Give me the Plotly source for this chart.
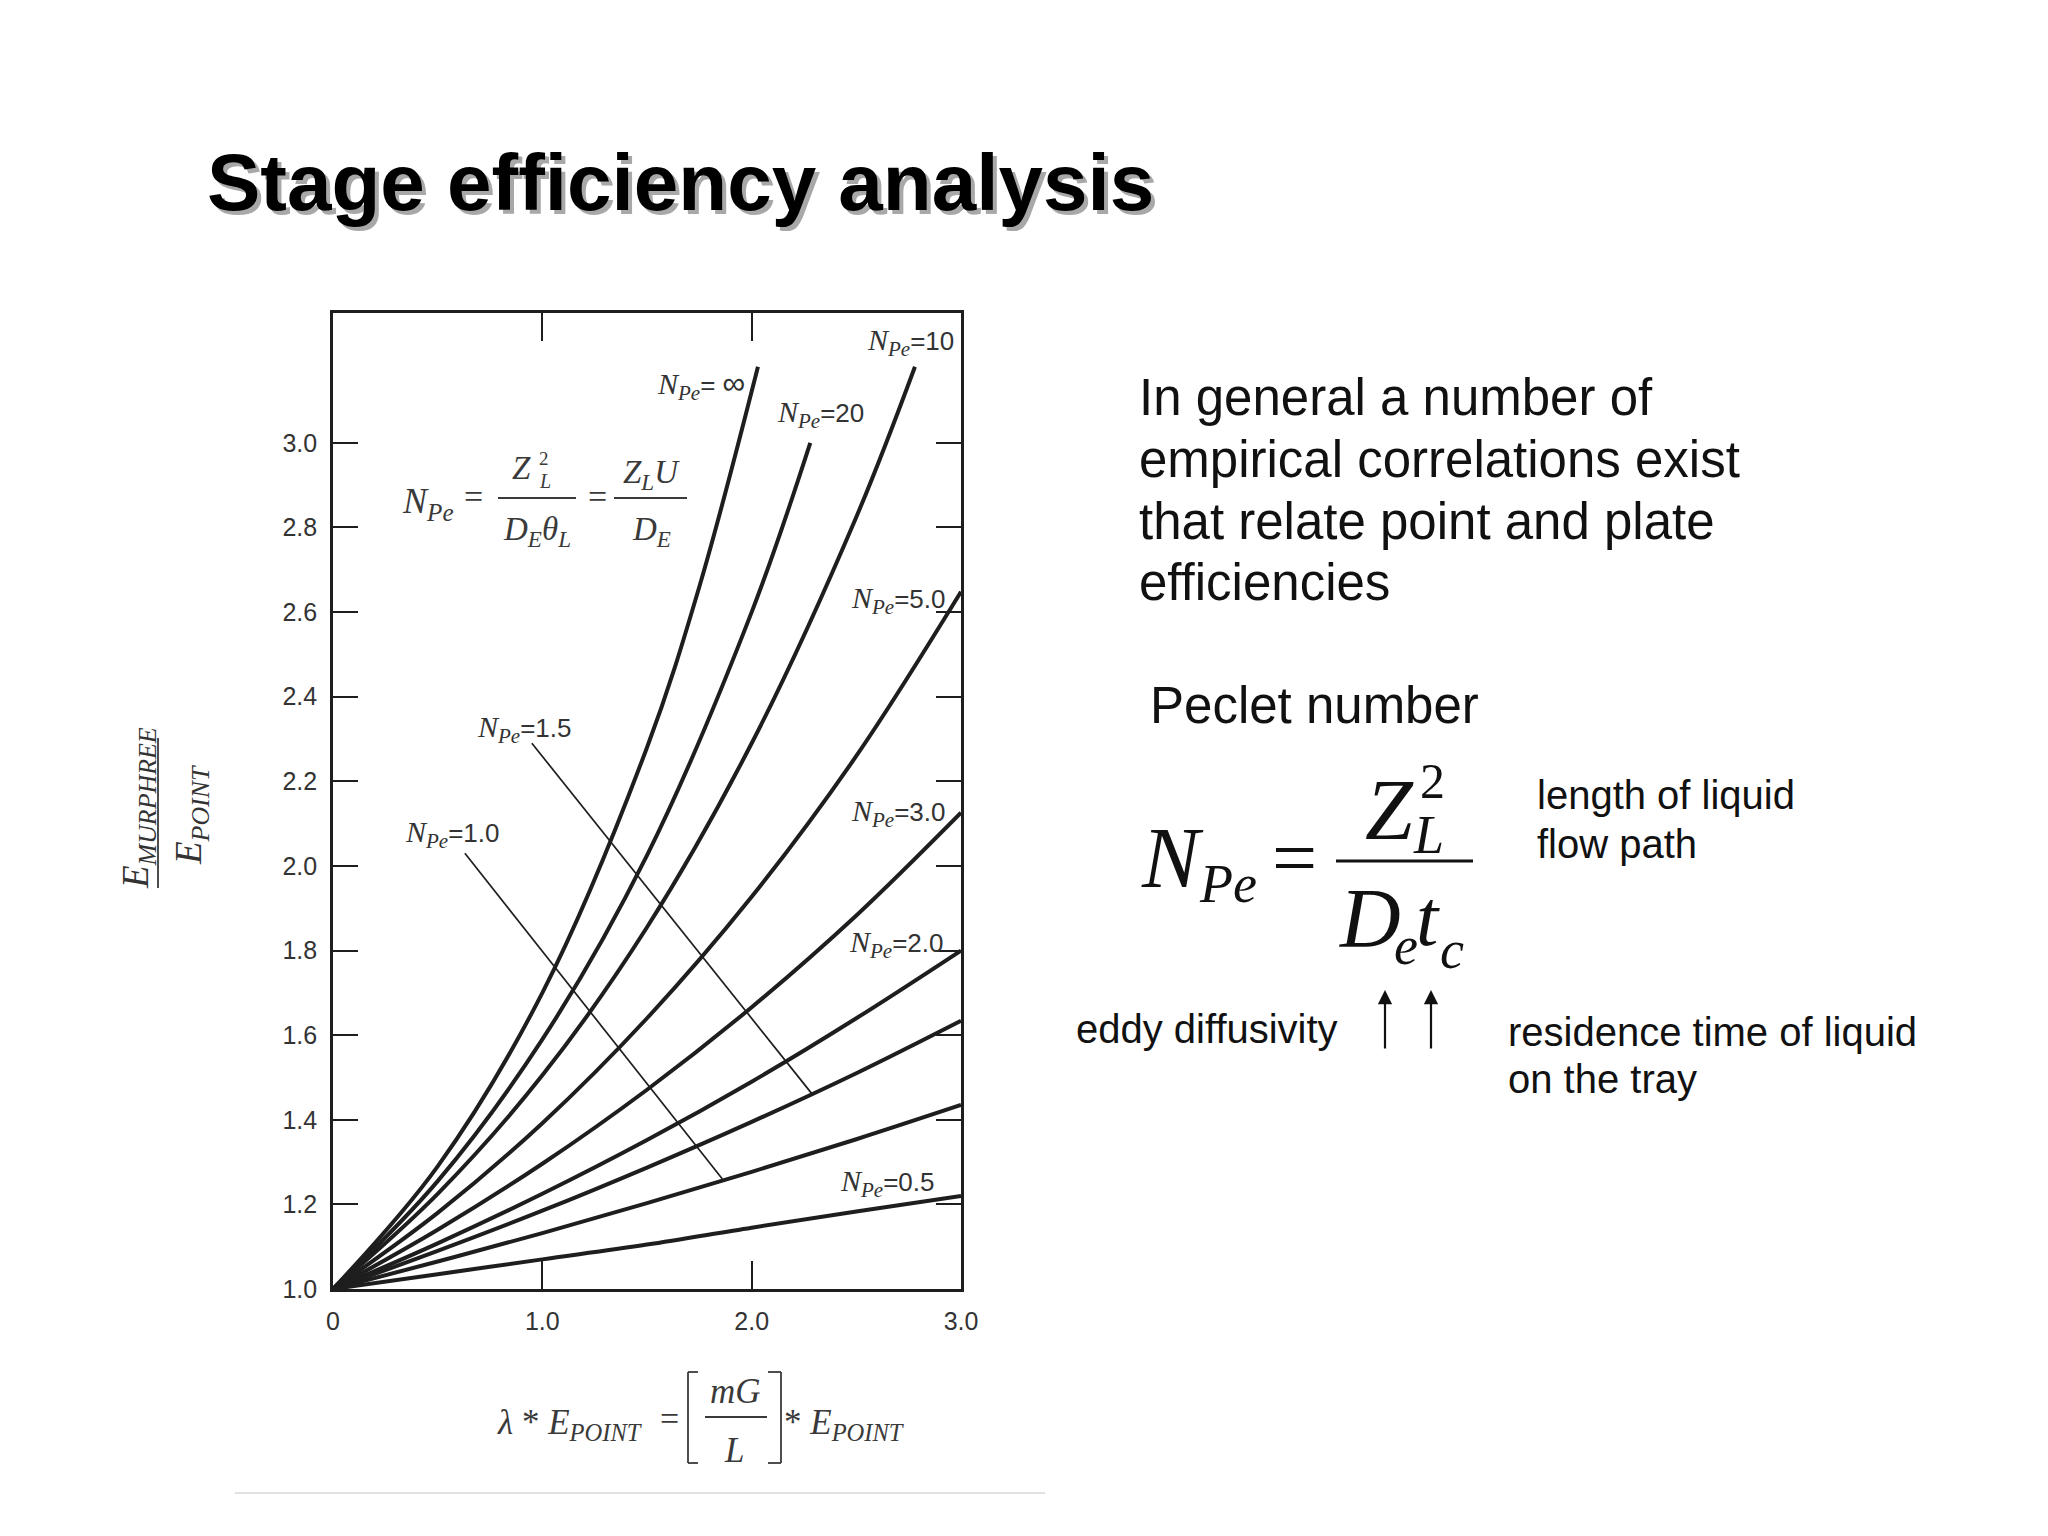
import plotly.graph_objects as go

# ---------------- data ----------------
x_grid = [0.0, 0.5, 1.0, 1.5, 2.0, 2.5, 3.0]

pe_inf_x = [0.0, 0.5, 1.0, 1.5, 1.75, 2.03]
pe_inf_y = [1.0, 1.29, 1.70, 2.28, 2.66, 3.18]

pe_20_x = [0.0, 0.5, 1.0, 1.5, 2.0, 2.28]
pe_20_y = [1.0, 1.255, 1.59, 2.025, 2.60, 3.00]

pe_10_x = [0.0, 0.5, 1.0, 1.5, 2.0, 2.5, 2.78]
pe_10_y = [1.0, 1.225, 1.505, 1.855, 2.29, 2.825, 3.18]

pe_5_y = [1.0, 1.18, 1.392, 1.64, 1.927, 2.26, 2.648]
pe_3_y = [1.0, 1.14, 1.296, 1.471, 1.666, 1.883, 2.126]
pe_2_y = [1.0, 1.108, 1.225, 1.352, 1.49, 1.64, 1.80]
pe_15_y = [1.0, 1.09, 1.185, 1.287, 1.395, 1.51, 1.634]
pe_1_y = [1.0, 1.065, 1.132, 1.203, 1.277, 1.354, 1.435]
pe_05_y = [1.0, 1.035, 1.07, 1.105, 1.145, 1.183, 1.22]

leader_15_x = [0.95, 2.29]
leader_15_y = [2.29, 1.46]
leader_1_x = [0.63, 1.86]
leader_1_y = [2.03, 1.26]

x_tick_vals = [0, 1, 2, 3]
x_tick_text = ["0", "1.0", "2.0", "3.0"]
y_tick_vals = [1.0, 1.2, 1.4, 1.6, 1.8, 2.0, 2.2, 2.4, 2.6, 2.8, 3.0]
y_tick_text = ["1.0", "1.2", "1.4", "1.6", "1.8", "2.0", "2.2", "2.4", "2.6", "2.8", "3.0"]

curve_labels = ['= <span style="font-size:32px">∞</span>', "=20", "=10", "=5.0",
                "=3.0", "=2.0", "=1.5", "=1.0", "=0.5"]
label_x = [1.76, 2.33, 2.76, 2.70, 2.70, 2.69, 0.916, 0.569, 2.65]
label_y = [3.136, 3.068, 3.238, 2.629, 2.125, 1.816, 2.323, 2.076, 1.25]

# ---------------- figure ----------------
# the page body adds an 8 px margin, so the figure is 8 px smaller and offset
OFF = 8
W, H = 2040, 1528
SERIF = "Liberation Serif, Times New Roman, serif"
SANS = "Liberation Sans, Arial, sans-serif"
INK = "#1e1e1e"
GRAY = "#333333"


def px(x):
    return (x - OFF) / W


def py(y):
    return 1 - (y - OFF) / H


fig = go.Figure()

curves = [
    (pe_inf_x, pe_inf_y), (pe_20_x, pe_20_y), (pe_10_x, pe_10_y),
    (x_grid, pe_5_y), (x_grid, pe_3_y), (x_grid, pe_2_y),
    (x_grid, pe_15_y), (x_grid, pe_1_y), (x_grid, pe_05_y),
]
for cx, cy in curves:
    fig.add_trace(go.Scatter(x=cx, y=cy, mode="lines",
                             line=dict(color=INK, width=4.0, shape="spline", smoothing=1.0),
                             showlegend=False, hoverinfo="skip"))

for lx, ly in [(leader_15_x, leader_15_y), (leader_1_x, leader_1_y)]:
    fig.add_trace(go.Scatter(x=lx, y=ly, mode="lines",
                             line=dict(color=INK, width=1.7),
                             showlegend=False, hoverinfo="skip"))

ann = []


def N_label(val):
    return ('<span style="font-family:Liberation Serif;font-size:30px"><i>N</i>'
            '<sub><i>Pe</i></sub></span>' + val)


for t, lx, ly in zip(curve_labels, label_x, label_y):
    ann.append(dict(x=lx, y=ly, xref="x", yref="y", text=N_label(t), showarrow=False,
                    font=dict(family=SANS, size=26, color=GRAY),
                    xanchor="center", yanchor="middle"))

# title with shadow
for dx, dy, col in [(4, 4, "#a8a8a8"), (0, 0, "#000000")]:
    ann.append(dict(x=px(205 + dx), y=py(183 + dy), xref="paper", yref="paper",
                    text="<b>Stage efficiency analysis</b>", showarrow=False,
                    font=dict(family=SANS, size=80, color=col),
                    xanchor="left", yanchor="middle"))

# right paragraph
para = ["In general a number of", "empirical correlations exist",
        "that relate point and plate", "efficiencies"]
for i, line in enumerate(para):
    ann.append(dict(x=px(1137), y=py(398 + 61.5 * i), xref="paper", yref="paper",
                    text=line, showarrow=False,
                    font=dict(family=SANS, size=51, color="#111111"),
                    xanchor="left", yanchor="middle"))
ann.append(dict(x=px(1148), y=py(705), xref="paper", yref="paper",
                text="Peclet number", showarrow=False,
                font=dict(family=SANS, size=51, color="#111111"),
                xanchor="left", yanchor="middle"))


# big formula on the right
def glyph(text, x, y, size, anchor="center"):
    ann.append(dict(x=px(x), y=py(y), xref="paper", yref="paper", text=text,
                    showarrow=False, font=dict(family=SERIF, size=size, color="#111111"),
                    xanchor=anchor, yanchor="middle"))


glyph("<i>N</i>", 1172, 858, 86)
glyph("<i>Pe</i>", 1228, 884, 54)
glyph("=", 1294, 858, 80)
glyph("<i>Z</i>", 1389, 810, 86)
glyph("2", 1432, 781, 50)
glyph("<i>L</i>", 1428, 835, 54)
glyph("<i>D</i>", 1370, 918, 84)
glyph("<i>e</i>", 1406, 946, 54)
glyph("<i>t</i>", 1428, 918, 80)
glyph("<i>c</i>", 1452, 950, 54)

side = [("length of liquid", 1535, 795), ("flow path", 1535, 844),
        ("eddy diffusivity", 1074, 1029),
        ("residence time of liquid", 1506, 1032), ("on the tray", 1506, 1079)]
for t, x, y in side:
    ann.append(dict(x=px(x), y=py(y), xref="paper", yref="paper", text=t,
                    showarrow=False, font=dict(family=SANS, size=40, color="#111111"),
                    xanchor="left", yanchor="middle"))

for ax_x in (1385, 1431):
    ann.append(dict(x=px(ax_x), y=py(990), xref="paper", yref="paper", text="",
                    showarrow=True, ax=0, ay=60, axref="pixel", ayref="pixel",
                    arrowhead=2, arrowsize=1.3, arrowwidth=2.2, arrowcolor="#111111"))


# formula inside the chart
def cglyph(text, x, y, size, anchor="center"):
    ann.append(dict(x=px(x), y=py(y), xref="paper", yref="paper", text=text,
                    showarrow=False, font=dict(family=SERIF, size=size, color="#3a3a3a"),
                    xanchor=anchor, yanchor="middle"))


cglyph("<i>N</i><sub><i>Pe</i></sub>", 428, 503, 36)
cglyph("=", 473, 496, 34)
cglyph("<i>Z</i>", 521, 468, 33)
cglyph("2", 544, 458, 19)
cglyph("<i>L</i>", 545, 481, 20)
cglyph("<i>D</i><sub><i>E</i></sub><i>θ</i><sub><i>L</i></sub>", 537, 531, 33)
cglyph("=", 597, 496, 34)
cglyph("<i>Z</i><sub><i>L</i></sub><i>U</i>", 651, 474, 33)
cglyph("<i>D</i><sub><i>E</i></sub>", 651, 531, 33)

# y axis label (rotated fraction)
for t, x, y in [("<i>E</i><sub><i>MURPHREE</i></sub>", 138, 808),
                ("<i>E</i><sub><i>POINT</i></sub>", 191, 815)]:
    ann.append(dict(x=px(x), y=py(y), xref="paper", yref="paper", text=t, textangle=-90,
                    showarrow=False, font=dict(family=SERIF, size=37, color="#333333"),
                    xanchor="center", yanchor="middle"))

# x axis label
cglyph("<i>λ</i> * <i>E</i><sub><i>POINT</i></sub>", 645, 1424, 35, anchor="right")
cglyph("=", 669, 1418, 34)
cglyph("<i>mG</i>", 735, 1391, 35)
cglyph("<i>L</i>", 734, 1450, 35)
cglyph("* <i>E</i><sub><i>POINT</i></sub>", 782, 1424, 35, anchor="left")

shapes = []


def pline(x0, y0, x1, y1, w=1.8, col="#3a3a3a"):
    shapes.append(dict(type="line", xref="paper", yref="paper",
                       x0=px(x0), y0=py(y0), x1=px(x1), y1=py(y1),
                       line=dict(color=col, width=w)))


# fraction bars
pline(1336, 861, 1473, 861, 3, "#111111")
pline(498, 498, 576, 498)
pline(614, 498, 687, 498)
pline(158, 738, 158, 888)
pline(705, 1417, 767, 1417)
# brackets
pline(698, 1372, 688, 1372); pline(688, 1372, 688, 1463); pline(688, 1463, 698, 1463)
pline(768, 1372, 781, 1372); pline(781, 1372, 781, 1463); pline(781, 1463, 768, 1463)
# faint page edge of the scan
pline(235, 1493, 1045, 1493, 2, "#e2e2e2")

fig.update_layout(
    width=W, height=H,
    margin=dict(l=0, r=0, t=0, b=0, autoexpand=False),
    paper_bgcolor="white", plot_bgcolor="white",
    annotations=ann, shapes=shapes,
    xaxis=dict(domain=[px(333), px(961)], range=[0, 3.0], automargin=False,
               tickvals=x_tick_vals, ticktext=x_tick_text,
               ticks="inside", ticklen=28, tickwidth=2.2, tickcolor=INK,
               showline=True, linewidth=2.6, linecolor=INK, mirror="ticks",
               showgrid=False, zeroline=False, ticklabelstandoff=8,
               tickfont=dict(family=SANS, size=25, color=GRAY)),
    yaxis=dict(domain=[py(1289), py(313)], range=[1.0, 3.307], automargin=False,
               tickvals=y_tick_vals, ticktext=y_tick_text,
               ticks="inside", ticklen=25, tickwidth=2.2, tickcolor=INK,
               showline=True, linewidth=2.6, linecolor=INK, mirror="ticks",
               showgrid=False, zeroline=False, ticklabelstandoff=8,
               tickfont=dict(family=SANS, size=25, color=GRAY)),
)

fig.write_html("out.html")
